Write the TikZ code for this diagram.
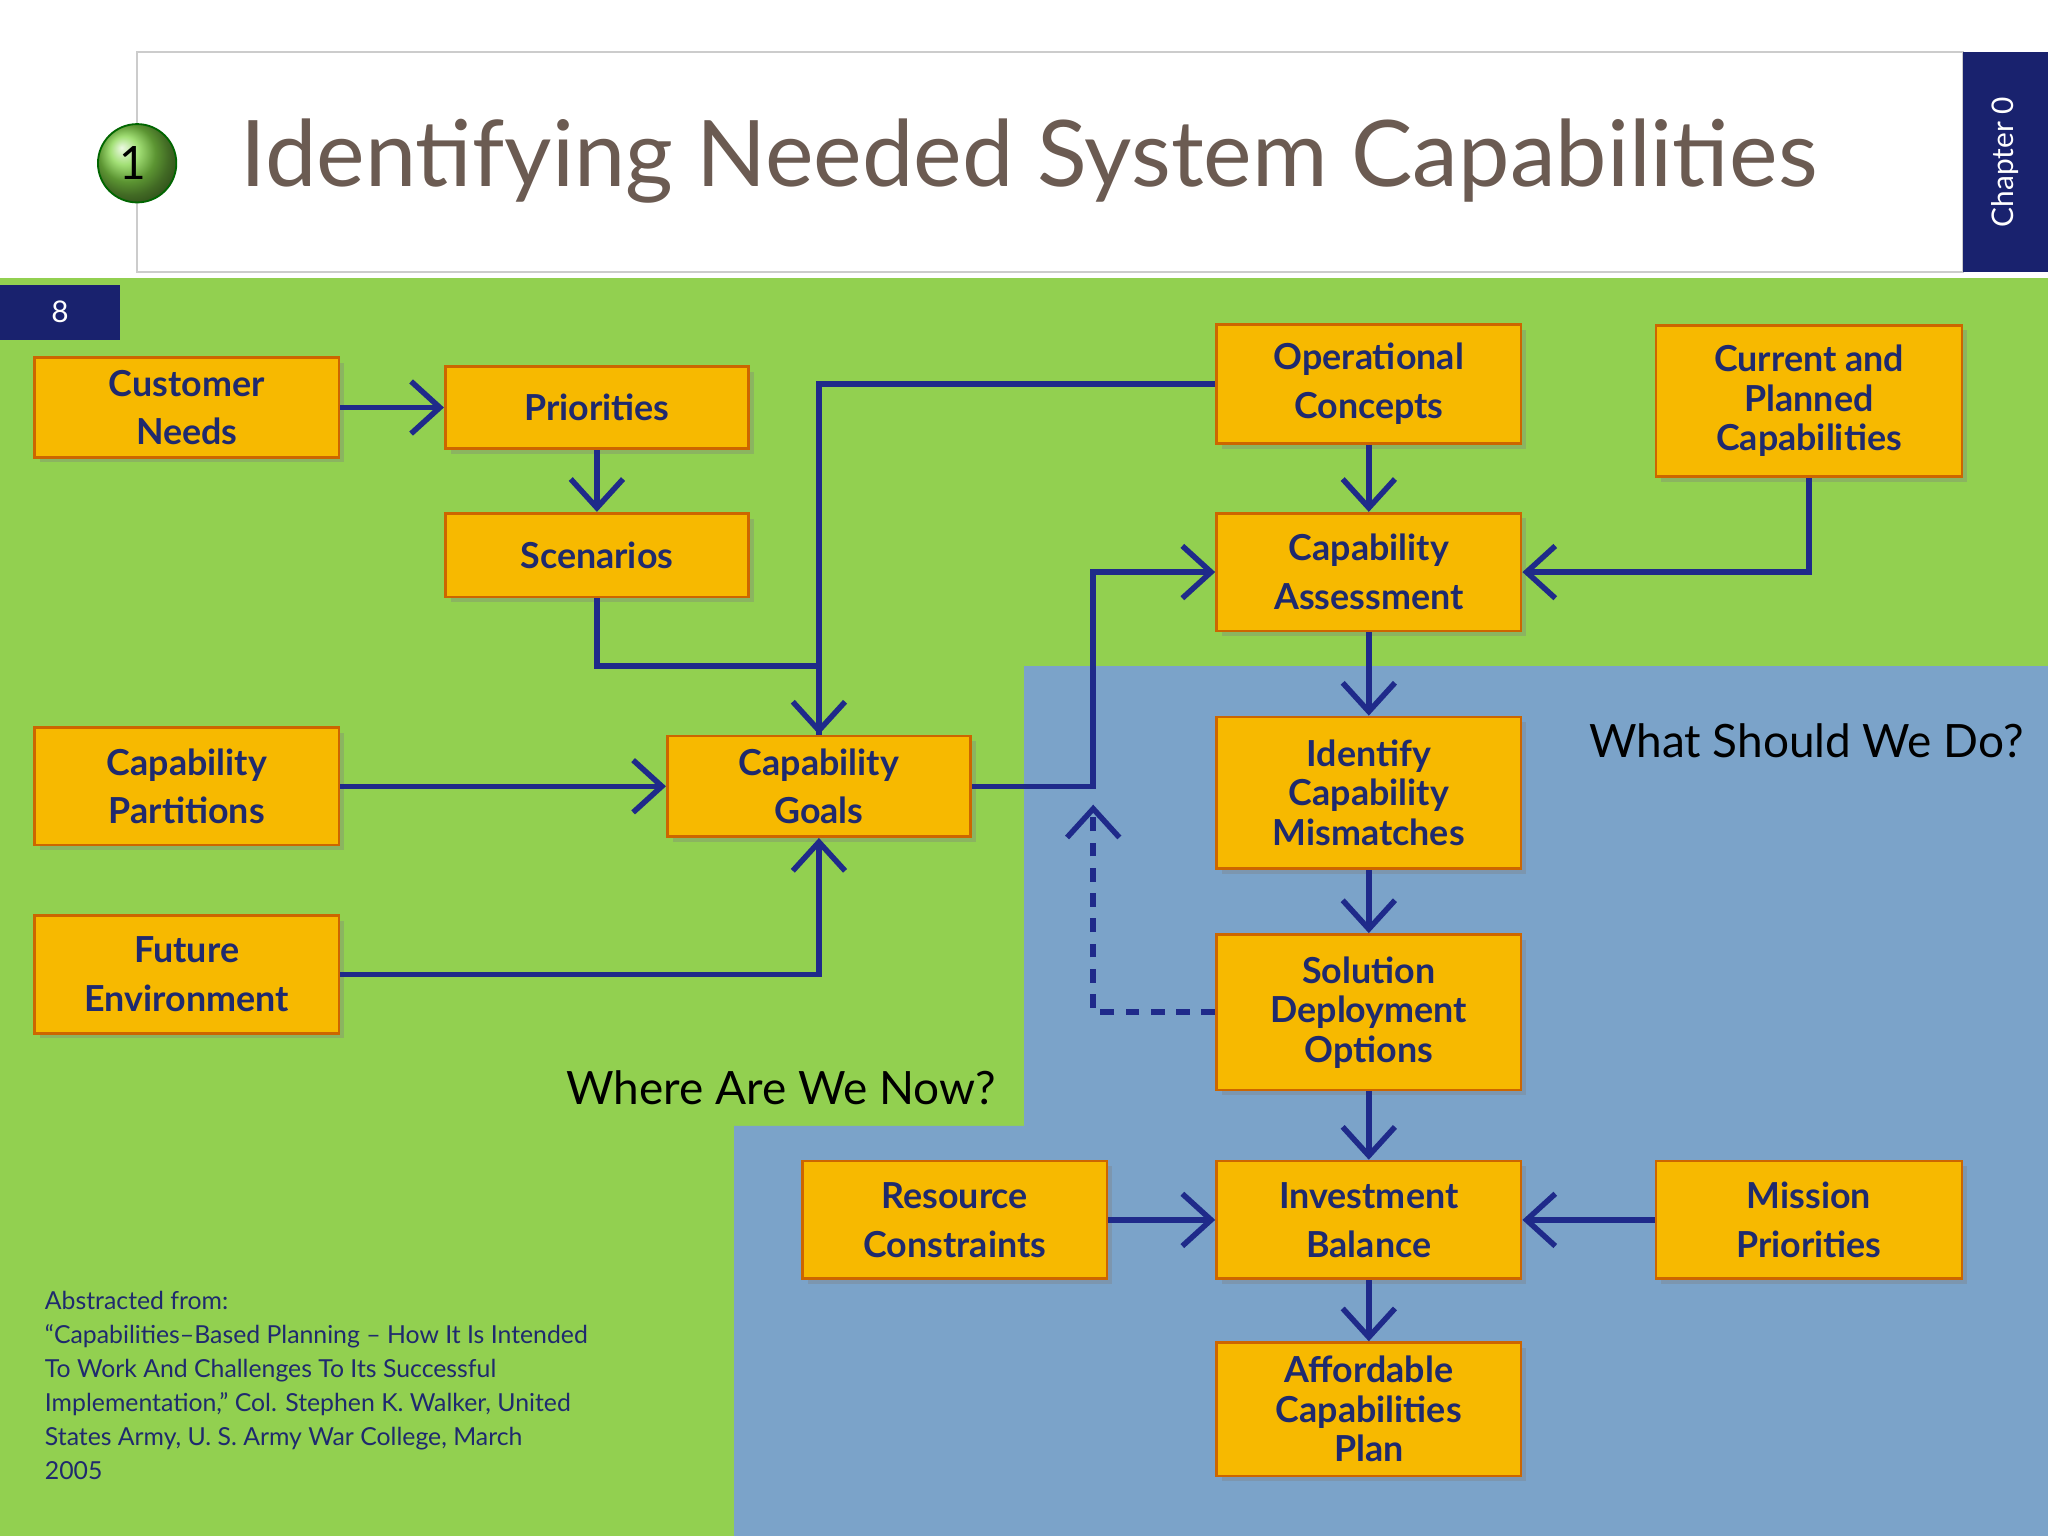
\documentclass[tikz,border=0pt]{standalone}
\usepackage{fontspec}
\setmainfont{Lato}
\usetikzlibrary{arrows.meta,shadows}
\definecolor{navy}{HTML}{1F2A8A}
\definecolor{boxfill}{HTML}{F7B900}
\definecolor{bggreen}{HTML}{92D050}
\definecolor{bgblue}{HTML}{7BA3C9}
\definecolor{titlegray}{HTML}{6B5B52}
\definecolor{textnavy}{HTML}{1F2A6E}
\tikzset{
  box/.style={draw=orange!80!black, fill=boxfill, line width=0.6pt, text=textnavy,
    font=\fontsize{7.8}{8.6}\selectfont\bfseries, align=center, inner sep=1pt,
    drop shadow={shadow xshift=0.4mm, shadow yshift=-0.4mm, opacity=0.35}},
  flow/.style={draw=navy, line width=1.2pt, -{Straight Barb[length=2.2mm,width=4mm,line width=1.2pt]}},
  link/.style={draw=navy, line width=1.2pt}
}
\begin{document}
\begin{tikzpicture}[x=0.01cm, y=-0.01cm]
    % Background
    \useasboundingbox (0,0) rectangle (1568,1176);
    \fill[white] (0,0) rectangle (1568,1176);
    \fill[bggreen] (0,213) rectangle (1568,1176);
    \fill[bgblue] (784,510) -- (1568,510) -- (1568,1176) -- (562,1176) -- (562,862) -- (784,862) -- cycle;

    % Header
    \draw[gray!40, line width=0.5pt] (105,40) rectangle (1503,208);
    \fill[navy!80!black] (1503,40) rectangle (1568,208);
    \node[rotate=90, text=white, font=\fontsize{6.5}{7}\selectfont] (chapter) at (1535,124) {Chapter 0};
    \shade[ball color=bggreen!90!green, draw=green!40!black] (105,125) circle (30);
    \node[font=\fontsize{10}{11}\selectfont] (num) at (102,125) {1};
    \node[anchor=west, text=titlegray, font=\fontsize{20}{22}\selectfont] (title) at (172,123) {Identifying Needed System Capabilities};
    \fill[navy!80!black] (0,218) rectangle (92,260);
    \node[text=white, font=\fontsize{6.5}{7}\selectfont] (page) at (46,239) {8};

    % Boxes
    \node[box, minimum width=2.33cm, minimum height=0.76cm] (needs) at (143,312) {Customer\\[2pt]Needs};
    \node[box, minimum width=2.32cm, minimum height=0.63cm] (prio) at (457,312) {Priorities};
    \node[box, minimum width=2.32cm, minimum height=0.64cm] (scen) at (457,425) {Scenarios};
    \node[box, minimum width=2.33cm, minimum height=0.91cm] (opcon) at (1048,294) {Operational\\[2pt]Concepts};
    \node[box, minimum width=2.34cm, minimum height=1.16cm] (current) at (1385,307) {Current and\\Planned\\Capabilities};
    \node[box, minimum width=2.33cm, minimum height=0.90cm] (assess) at (1048,438) {Capability\\[2pt]Assessment};
    \node[box, minimum width=2.33cm, minimum height=0.90cm] (parts) at (143,602) {Capability\\[2pt]Partitions};
    \node[box, minimum width=2.32cm, minimum height=0.77cm] (goals) at (627,602) {Capability\\[2pt]Goals};
    \node[box, minimum width=2.33cm, minimum height=0.90cm] (future) at (143,746) {Future\\[2pt]Environment};
    \node[box, minimum width=2.33cm, minimum height=1.16cm] (mism) at (1048,607) {Identify\\Capability\\Mismatches};
    \node[box, minimum width=2.33cm, minimum height=1.19cm] (solut) at (1048,775) {Solution\\Deployment\\Options};
    \node[box, minimum width=2.33cm, minimum height=0.90cm] (resou) at (731,934) {Resource\\[2pt]Constraints};
    \node[box, minimum width=2.33cm, minimum height=0.90cm] (invest) at (1048,934) {Investment\\[2pt]Balance};
    \node[box, minimum width=2.34cm, minimum height=0.90cm] (mission) at (1385,934) {Mission\\[2pt]Priorities};
    \node[box, minimum width=2.33cm, minimum height=1.02cm] (afford) at (1048,1079) {Affordable\\Capabilities\\Plan};

    % Connectors
    \coordinate (scenbend) at (457,510);
    \coordinate (goalsbend) at (837,602);
    \coordinate (dotbend) at (837,775);
    \draw[flow] (needs) -- (prio);
    \draw[flow] (prio) -- (scen);
    \draw[link] (scen.south) -- (scenbend) -| (goals.north);
    \draw[flow] (opcon.west) -| (goals.north);
    \draw[flow] (parts) -- (goals);
    \draw[flow] (future.east) -| (goals.south);
    \draw[flow] (goals.east) -- (goalsbend) |- (assess.west);
    \draw[flow] (opcon) -- (assess);
    \draw[flow] (current.south) |- (assess.east);
    \draw[flow] (assess) -- (mism);
    \draw[flow] (mism) -- (solut);
    \draw[flow] (solut) -- (invest);
    \draw[flow] (invest) -- (afford);
    \draw[flow] (resou) -- (invest);
    \draw[flow] (mission) -- (invest);
    \draw[flow, dash pattern=on 3pt off 2.5pt] (solut.west) -- (dotbend) -- ([yshift=-4]goalsbend);

    % Region labels
    \node[font=\fontsize{10}{11}\selectfont] (should) at (1383,567) {What Should We Do?};
    \node[font=\fontsize{10}{11}\selectfont] (now) at (598,833) {Where Are We Now?};
    \node[anchor=north west, align=left, text=textnavy, font=\fontsize{5.4}{7.4}\selectfont] (source) at (22,976)
      {Abstracted from:\\``Capabilities--Based Planning -- How It Is Intended\\To Work And Challenges To Its Successful\\Implementation,'' Col. Stephen K. Walker, United\\States Army, U. S. Army War College, March\\2005};
\end{tikzpicture}
\end{document}
